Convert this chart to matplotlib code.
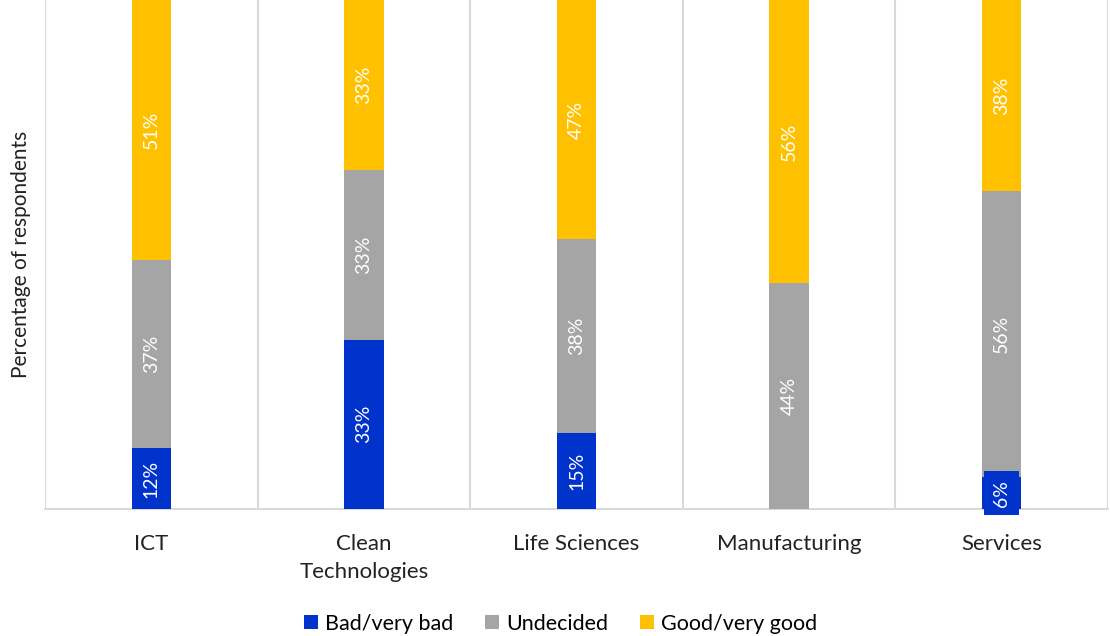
import matplotlib.pyplot as plt
import numpy as np

categories = ["ICT", "Clean\nTechnologies", "Life Sciences", "Manufacturing", "Services"]
bad = [12, 33.3, 15, 0, 6.25]
undecided = [37, 33.3, 38, 44.4, 56.25]
good = [51, 33.4, 47, 55.6, 37.5]
series_names = ["Bad/very bad", "Undecided", "Good/very good"]
colors = ["#0033CC", "#A5A5A5", "#FFC000"]

plt.rcParams['font.family'] = ['Lato', 'DejaVu Sans']

fig = plt.figure(figsize=(11.1, 6.36), dpi=100)
ax = fig.add_axes([45/1110, 127/636, 1063/1110, 509/636])

x = np.arange(len(categories))
w = 0.185
bottom = np.zeros(len(categories))
for vals, name, col in zip([bad, undecided, good], series_names, colors):
    vals = np.array(vals, dtype=float)
    ax.bar(x, vals, w, bottom=bottom, color=col, label=name, zorder=3)
    for xi, v, b in zip(x, vals, bottom):
        if v > 0:
            box = None
            if v < 10:
                # small segment: label box overflows the bar
                box = dict(boxstyle='square,pad=0.45', facecolor=col, edgecolor='none')
            ax.text(xi, b + v / 2, f"{v:.0f}%", rotation=90, ha='center', va='center',
                    color='white', fontsize=14, zorder=4, bbox=box, clip_on=False)
    bottom += vals

ax.set_xlim(-0.5, 4.5)
ax.set_ylim(0, 100)
ax.set_yticks([])
ax.set_xticks(x)
ax.set_xticklabels(categories, fontsize=16, color='#222222', linespacing=1.5)
ax.tick_params(axis='x', length=0, pad=18)
ax.set_xticks(np.arange(-0.5, 5, 1), minor=True)
ax.tick_params(axis='x', which='minor', length=0)
ax.grid(axis='x', which='minor', color='#D9D9D9', linewidth=1.5, zorder=0)
for s in ['top', 'right', 'left']:
    ax.spines[s].set_visible(False)
ax.spines['bottom'].set_color('#D9D9D9')
ax.spines['bottom'].set_linewidth(1.5)
ax.set_ylabel("Percentage of respondents", fontsize=15, color='#222222', labelpad=10)

fig.legend(loc='lower center', bbox_to_anchor=(0.505, -0.027), ncol=3, frameon=False,
           fontsize=15.5, handlelength=0.65, handleheight=0.65, handletextpad=0.3,
           columnspacing=1.5)

fig.savefig("out.png", dpi=100)
